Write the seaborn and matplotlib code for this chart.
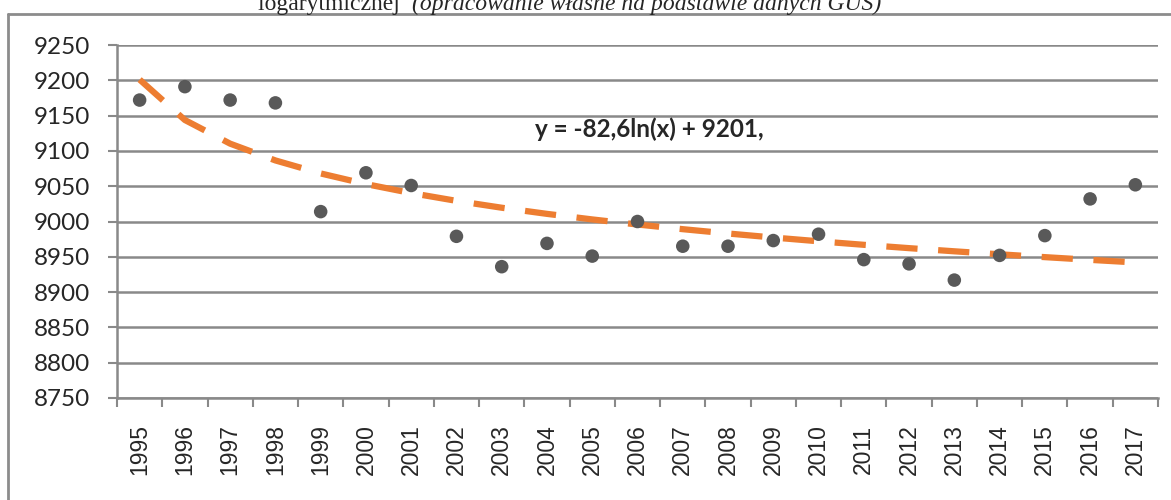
import numpy as np
import pandas as pd
import matplotlib.pyplot as plt
from matplotlib.lines import Line2D
from matplotlib.ticker import FixedLocator
import seaborn as sns

# years and values
years = ['1995', '1996', '1997', '1998', '1999', '2000', '2001', '2002',
         '2003', '2004', '2005', '2006', '2007', '2008', '2009', '2010',
         '2011', '2012', '2013', '2014', '2015', '2016', '2017']
values = [9172, 9191, 9172, 9168, 9014, 9069, 9051, 8979,
          8936, 8969, 8951, 9000, 8965, 8965, 8973, 8982,
          8946, 8940, 8917, 8952, 8980, 9032, 9052]
# trend line coefficients as printed on the chart
trend_a = -82.6
trend_b = 9201
y_ticks = [8750, 8800, 8850, 8900, 8950, 9000, 9050, 9100, 9150, 9200, 9250]

df = pd.DataFrame({'rok': years, 'wartosc': values})
df['trend'] = trend_a * np.log(np.arange(1, len(years) + 1)) + trend_b

sns.set_style('white')
plt.rcParams['font.family'] = ['Lato', 'DejaVu Sans']

fig = plt.figure(figsize=(11.71, 5.0), dpi=100)
ax = fig.add_axes([117 / 1171, 1 - 398 / 500, 1041 / 1171, 353 / 500])

grid_c = '#898989'
sns.lineplot(data=df, x='rok', y='trend', ax=ax, color='#ED7D31', lw=4.5,
             zorder=3, sort=False)
ax.lines[-1].set_dashes((5, 3.3))
sns.scatterplot(data=df, x='rok', y='wartosc', ax=ax, color='#595959', s=95,
                edgecolor='none', zorder=4)

ax.set_xlim(-0.5, len(years) - 0.5)
ax.set_ylim(8750, 9250)
ax.set_yticks(y_ticks)
ax.set_yticklabels([str(v) for v in y_ticks], fontsize=17.5, family=['Lato'])
ax.yaxis.grid(True, color=grid_c, lw=1.8)
ax.set_axisbelow(True)

ax.set_xticks(range(len(years)))
ax.set_xticklabels(years, rotation=90, fontsize=16.5,
                   family=['Liberation Sans'])
ax.xaxis.set_minor_locator(FixedLocator(np.arange(-0.5, len(years), 1)))
ax.tick_params(axis='x', which='major', length=0, pad=19)
ax.tick_params(axis='x', which='minor', length=6.5, width=1.5, color=grid_c,
               bottom=True)
ax.tick_params(axis='y', length=6.5, width=1.5, color=grid_c, pad=13, left=True)

for s in ['top', 'right']:
    ax.spines[s].set_visible(False)
for s in ['left', 'bottom']:
    ax.spines[s].set_color(grid_c)
    ax.spines[s].set_linewidth(1.8)
ax.set_xlabel('')
ax.set_ylabel('')

ax.annotate('y = -82,6ln(x) + 9201,', xy=(649 / 1171, 1 - 137 / 500),
            xycoords='figure fraction', fontsize=17.5, fontweight='bold',
            ha='center', va='baseline')

# frame of the chart area
fig.add_artist(Line2D([8 / 1171, 8 / 1171], [0, 1 - 14 / 500],
                      transform=fig.transFigure, color='#8c8c8c', lw=2))
fig.add_artist(Line2D([8 / 1171, 1], [1 - 14 / 500, 1 - 14 / 500],
                      transform=fig.transFigure, color='#8c8c8c', lw=2))

# caption cut off at the top
t1 = fig.text(258 / 1171, 1 - 10 / 500, 'logarytmicznej  ',
              family=['Liberation Serif'], fontsize=17, va='baseline')
fig.canvas.draw()
bb = t1.get_window_extent()
fig.text(bb.x1 / 1171, 1 - 10 / 500,
         '(opracowanie własne na podstawie danych GUS)',
         family=['Liberation Serif'], fontsize=17, style='italic',
         va='baseline')

fig.savefig('out.png', dpi=100)
